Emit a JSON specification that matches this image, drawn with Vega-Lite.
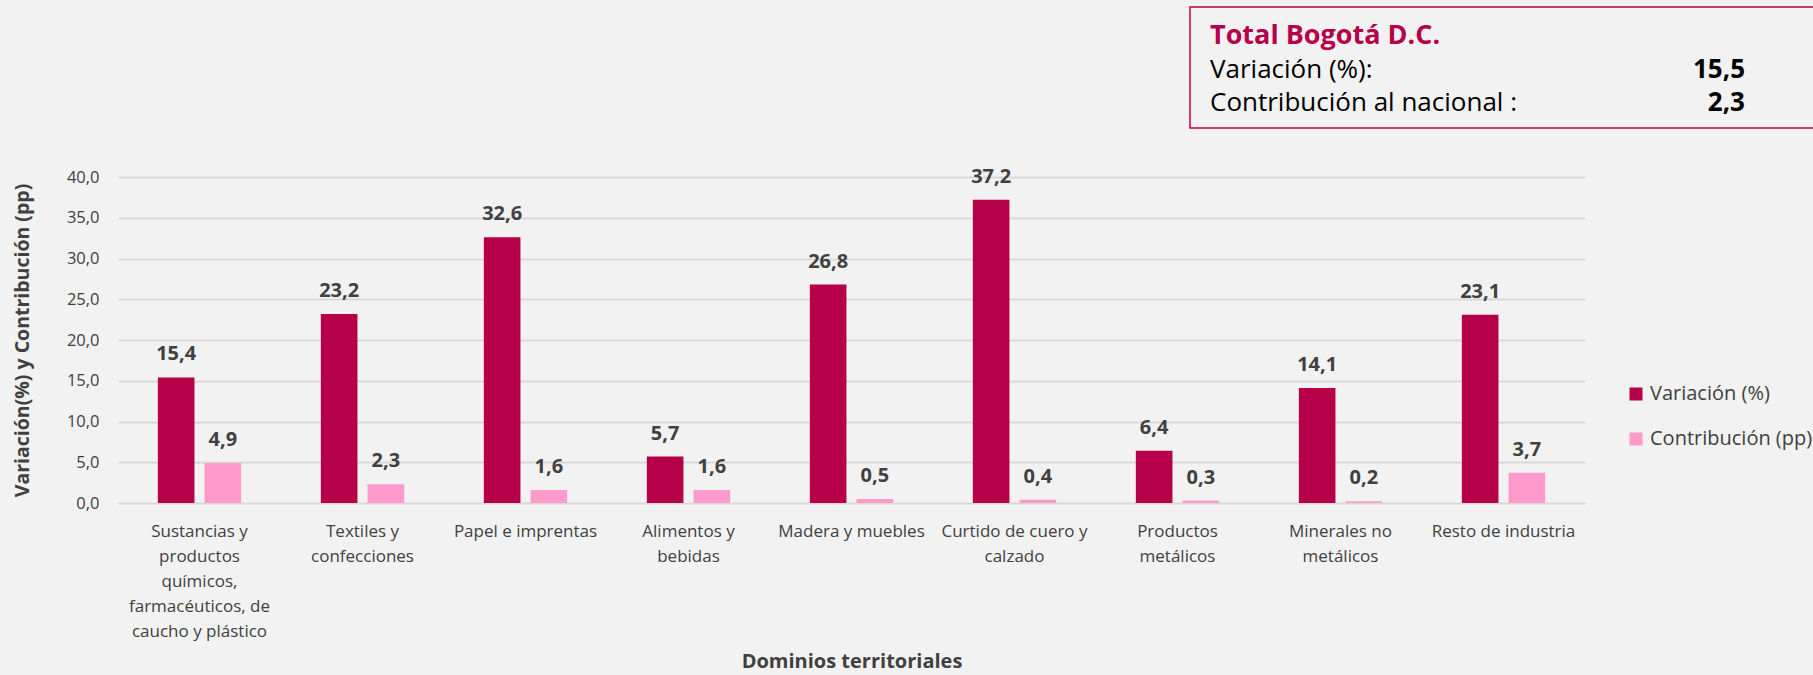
{
  "$schema": "https://vega.github.io/schema/vega-lite/v6.json",
  "width": 1467,
  "height": 326,
  "autosize": {"type": "none"},
  "padding": {"left": 118, "top": 177, "right": 228, "bottom": 172},
  "background": "#F2F2F2",
  "config": {
    "font": "Open Sans",
    "view": {"stroke": null},
    "locale": {"number": {"decimal": ",", "thousands": ".", "grouping": [3], "currency": ["$", ""]}}
  },
  "datasets": {
    "barras": [
      {"dominio": "Sustancias y productos químicos, farmacéuticos, de caucho y plástico", "serie": "Variación (%)", "valor": 15.4},
      {"dominio": "Sustancias y productos químicos, farmacéuticos, de caucho y plástico", "serie": "Contribución (pp)", "valor": 4.9},
      {"dominio": "Textiles y confecciones", "serie": "Variación (%)", "valor": 23.2},
      {"dominio": "Textiles y confecciones", "serie": "Contribución (pp)", "valor": 2.3},
      {"dominio": "Papel e imprentas", "serie": "Variación (%)", "valor": 32.6},
      {"dominio": "Papel e imprentas", "serie": "Contribución (pp)", "valor": 1.6},
      {"dominio": "Alimentos y bebidas", "serie": "Variación (%)", "valor": 5.7},
      {"dominio": "Alimentos y bebidas", "serie": "Contribución (pp)", "valor": 1.6},
      {"dominio": "Madera y muebles", "serie": "Variación (%)", "valor": 26.8},
      {"dominio": "Madera y muebles", "serie": "Contribución (pp)", "valor": 0.5},
      {"dominio": "Curtido de cuero y calzado", "serie": "Variación (%)", "valor": 37.2},
      {"dominio": "Curtido de cuero y calzado", "serie": "Contribución (pp)", "valor": 0.4},
      {"dominio": "Productos metálicos", "serie": "Variación (%)", "valor": 6.4},
      {"dominio": "Productos metálicos", "serie": "Contribución (pp)", "valor": 0.3},
      {"dominio": "Minerales no metálicos", "serie": "Variación (%)", "valor": 14.1},
      {"dominio": "Minerales no metálicos", "serie": "Contribución (pp)", "valor": 0.2},
      {"dominio": "Resto de industria", "serie": "Variación (%)", "valor": 23.1},
      {"dominio": "Resto de industria", "serie": "Contribución (pp)", "valor": 3.7}
    ],
    "recuadro": [
      {"tipo": "titulo", "fila": "1", "columna": "etiqueta", "texto": "Total Bogotá D.C."},
      {"tipo": "etiqueta", "fila": "2", "columna": "etiqueta", "texto": "Variación (%):"},
      {"tipo": "valor", "fila": "2", "columna": "valor", "cifra": 15.5},
      {"tipo": "etiqueta", "fila": "3", "columna": "etiqueta", "texto": "Contribución al nacional :"},
      {"tipo": "valor", "fila": "3", "columna": "valor", "cifra": 2.3}
    ]
  },
  "layer": [
    {
      "data": {"name": "barras"},
      "encoding": {
        "x": {
          "field": "dominio",
          "type": "nominal",
          "sort": null,
          "title": "Dominios territoriales",
          "scale": {"paddingInner": 0, "paddingOuter": 0},
          "axis": {
            "labelAngle": 0,
            "ticks": false,
            "domain": false,
            "labelFontSize": 17,
            "labelLineHeight": 25,
            "labelPadding": 20,
            "labelColor": "#404040",
            "labelLimit": 0,
            "titleFontSize": 20,
            "titleFontWeight": "bold",
            "titleColor": "#404040",
            "titlePadding": 12,
            "labelExpr": "datum.label == 'Sustancias y productos químicos, farmacéuticos, de caucho y plástico' ? ['Sustancias y','productos','químicos,','farmacéuticos, de','caucho y plástico'] : datum.label == 'Textiles y confecciones' ? ['Textiles y','confecciones'] : datum.label == 'Alimentos y bebidas' ? ['Alimentos y','bebidas'] : datum.label == 'Curtido de cuero y calzado' ? ['Curtido de cuero y','calzado'] : datum.label == 'Productos metálicos' ? ['Productos','metálicos'] : datum.label == 'Minerales no metálicos' ? ['Minerales no','metálicos'] : datum.label"
          }
        },
        "xOffset": {
          "field": "serie",
          "type": "nominal",
          "sort": ["Variación (%)", "Contribución (pp)"],
          "scale": {"paddingInner": 0.216, "paddingOuter": 0.853}
        },
        "y": {
          "field": "valor",
          "type": "quantitative",
          "title": "Variación(%) y Contribución (pp)",
          "scale": {"domain": [0, 40], "nice": false},
          "axis": {
            "tickCount": 8,
            "format": ".1f",
            "ticks": false,
            "domain": false,
            "labelFontSize": 16.5,
            "labelColor": "#404040",
            "labelPadding": 19,
            "gridColor": "#D9D9D9",
            "gridWidth": 2,
            "titleFontSize": 19.5,
            "titleFontWeight": "bold",
            "titleColor": "#404040",
            "titlePadding": 34
          }
        }
      },
      "layer": [
        {
          "mark": {"type": "bar"},
          "encoding": {
            "color": {
              "field": "serie",
              "type": "nominal",
              "scale": {"domain": ["Variación (%)", "Contribución (pp)"], "range": ["#B7004A", "#FF9BCB"]},
              "legend": {
                "orient": "none",
                "legendX": 1508,
                "legendY": 207,
                "title": null,
                "padding": 0,
                "symbolType": "square",
                "symbolSize": 169,
                "symbolStrokeWidth": 0,
                "labelFontSize": 20,
                "labelColor": "#404040",
                "labelOffset": 4,
                "rowPadding": 25,
                "labelLimit": 0
              }
            }
          }
        },
        {
          "mark": {"type": "text", "baseline": "alphabetic", "dy": -17, "fontSize": 20, "fontWeight": "bold", "color": "#404040"},
          "encoding": {
            "text": {"field": "valor", "type": "quantitative", "format": ".1f"}
          }
        }
      ]
    },
    {
      "data": {"name": "recuadro"},
      "layer": [
        {
          "transform": [{"filter": "datum.tipo === 'titulo'"}],
          "mark": {"type": "rect", "fill": "transparent", "stroke": "#C0004E", "strokeWidth": 1.5},
          "encoding": {
            "x": {"field": "tipo", "type": "nominal", "axis": null, "scale": {"type": "band", "domain": ["titulo"], "range": [1072, 1740], "paddingInner": 0, "paddingOuter": 0}},
            "y": {"field": "tipo", "type": "nominal", "axis": null, "scale": {"type": "band", "domain": ["titulo"], "range": [-170, -49], "paddingInner": 0, "paddingOuter": 0}}
          }
        },
        {
          "transform": [{"filter": "datum.tipo === 'titulo'"}],
          "mark": {"type": "text", "align": "left", "baseline": "alphabetic", "fontSize": 27, "fontWeight": "bold", "color": "#B7004A"},
          "encoding": {
            "x": {"field": "columna", "type": "nominal", "axis": null, "scale": {"type": "point", "domain": ["etiqueta", "valor"], "range": [1092, 1627], "padding": 0}},
            "y": {"field": "fila", "type": "ordinal", "axis": null, "scale": {"type": "point", "domain": ["1", "2", "3"], "range": [-133, -66], "padding": 0}},
            "text": {"field": "texto", "type": "nominal"}
          }
        },
        {
          "transform": [{"filter": "datum.tipo === 'etiqueta'"}],
          "mark": {"type": "text", "align": "left", "baseline": "alphabetic", "fontSize": 26, "color": "#000000"},
          "encoding": {
            "x": {"field": "columna", "type": "nominal", "axis": null, "scale": {"type": "point", "domain": ["etiqueta", "valor"], "range": [1092, 1627], "padding": 0}},
            "y": {"field": "fila", "type": "ordinal", "axis": null, "scale": {"type": "point", "domain": ["1", "2", "3"], "range": [-133, -66], "padding": 0}},
            "text": {"field": "texto", "type": "nominal"}
          }
        },
        {
          "transform": [{"filter": "datum.tipo === 'valor'"}],
          "mark": {"type": "text", "align": "right", "baseline": "alphabetic", "fontSize": 26, "fontWeight": "bold", "color": "#000000"},
          "encoding": {
            "x": {"field": "columna", "type": "nominal", "axis": null, "scale": {"type": "point", "domain": ["etiqueta", "valor"], "range": [1092, 1627], "padding": 0}},
            "y": {"field": "fila", "type": "ordinal", "axis": null, "scale": {"type": "point", "domain": ["1", "2", "3"], "range": [-133, -66], "padding": 0}},
            "text": {"field": "cifra", "type": "quantitative", "format": ".1f"}
          }
        }
      ],
      "resolve": {"scale": {"x": "independent", "y": "independent"}}
    }
  ],
  "resolve": {"scale": {"x": "independent", "y": "independent"}}
}
